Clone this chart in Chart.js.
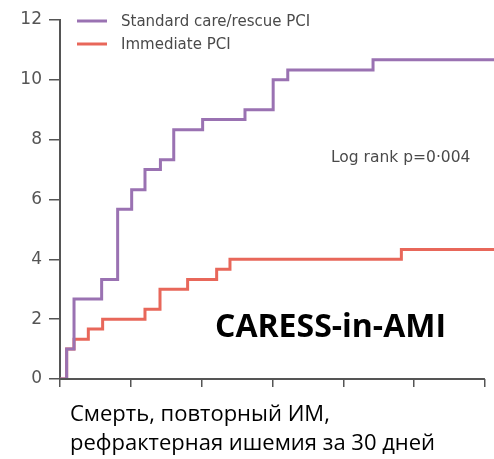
<!DOCTYPE html>
<html>
<head>
<meta charset="utf-8">
<script src="https://cdn.jsdelivr.net/npm/chart.js@4/dist/chart.umd.min.js"></script>
<style>
  html, body { margin: 0; padding: 0; background: #fff; }
  #wrap { width: 494px; height: 459px; position: relative; }
</style>
</head>
<body>
<div id="wrap"><canvas id="km"></canvas></div>
<script>
// Kaplan–Meier curves: cumulative event rate (%) by day of follow-up
const seriesNames = ['Standard care/rescue PCI', 'Immediate PCI'];
const standardDays   = [0, 0.47, 0.99, 2.94, 4.07, 5.06, 6.0, 7.09, 8.03, 10.07, 13.06, 15.05, 16.08, 22.1, 30.64];
const standardValues = [0, 1.0, 2.67, 3.33, 5.67, 6.33, 7.0, 7.33, 8.33, 8.67, 9.0, 10.0, 10.33, 10.67, 10.67];
const immediateDays   = [0, 0.47, 0.99, 2.0, 3.01, 6.0, 7.06, 9.01, 11.06, 12.0, 24.1, 30.64];
const immediateValues = [0, 1.0, 1.33, 1.67, 2.0, 2.33, 3.0, 3.33, 3.67, 4.0, 4.33, 4.33];
const xTickDays = [0, 5, 10, 15, 20, 25, 30];
const yTickValues = [0, 2, 4, 6, 8, 10, 12];
const pValueText = 'Log rank p=0·004';
const trialName = 'CARESS-in-AMI';
const endpointLines = ['Смерть, повторный ИМ,', 'рефрактерная ишемия за 30 дней'];

const PURPLE = '#9a72b2';
const RED = '#e8675a';
const AXIS = '#555555';

function toPoints(xs, ys) { return xs.map((x, i) => ({ x: x, y: ys[i] })); }

// legend, x baseline and free text drawn on the canvas
const decorations = {
  id: 'decorations',
  afterDraw(chart) {
    const ctx = chart.ctx;
    const xs = chart.scales.x, ys = chart.scales.y;
    ctx.save();
    // x axis baseline up to day 30
    ctx.strokeStyle = AXIS;
    ctx.lineWidth = 2;
    ctx.beginPath();
    ctx.moveTo(xs.getPixelForValue(0) - 1, ys.getPixelForValue(0));
    ctx.lineTo(xs.getPixelForValue(30), ys.getPixelForValue(0));
    ctx.stroke();

    // legend
    const legendRows = [{ color: PURPLE, y: 21 }, { color: RED, y: 44 }];
    ctx.font = '15px "DejaVu Sans", sans-serif';
    ctx.textBaseline = 'middle';
    ctx.textAlign = 'left';
    legendRows.forEach((r, i) => {
      ctx.strokeStyle = r.color;
      ctx.lineWidth = 3;
      ctx.beginPath();
      ctx.moveTo(77, r.y);
      ctx.lineTo(107, r.y);
      ctx.stroke();
      ctx.fillStyle = '#4a4a4a';
      ctx.fillText(seriesNames[i], 121, r.y + 1);
    });

    // p-value
    ctx.fillStyle = '#4a4a4a';
    ctx.font = '15.5px "DejaVu Sans", sans-serif';
    ctx.fillText(pValueText, 331, 158);

    // trial name
    ctx.fillStyle = '#000';
    ctx.textBaseline = 'alphabetic';
    ctx.font = 'bold 32px "Open Sans", sans-serif';
    ctx.fillText(trialName, 215, 337);

    // endpoint description
    ctx.textBaseline = 'middle';
    ctx.font = '22px "Open Sans", sans-serif';
    ctx.fillText(endpointLines[0], 70, 415);
    ctx.fillText(endpointLines[1], 70, 444);
    ctx.restore();
  }
};

new Chart(document.getElementById('km'), {
  type: 'line',
  data: {
    datasets: [
      {
        label: seriesNames[1],
        data: toPoints(immediateDays, immediateValues),
        borderColor: RED,
        borderWidth: 3,
        stepped: 'before',
        pointRadius: 0,
        fill: false,
        order: 2
      },
      {
        label: seriesNames[0],
        data: toPoints(standardDays, standardValues),
        borderColor: PURPLE,
        borderWidth: 3,
        stepped: 'before',
        pointRadius: 0,
        fill: false,
        order: 1
      }
    ]
  },
  options: {
    responsive: true,
    maintainAspectRatio: false,
    animation: false,
    layout: { padding: { top: 20, right: 0, left: 0, bottom: 0 } },
    plugins: { legend: { display: false }, tooltip: { enabled: false } },
    scales: {
      x: {
        type: 'linear',
        min: 0,
        max: 30.64,
        afterBuildTicks(scale) { scale.ticks = xTickDays.map(v => ({ value: v })); },
        afterFit(scale) { scale.height = 80; },
        ticks: { display: false },
        border: { display: false },
        grid: { drawOnChartArea: false, drawTicks: true, tickLength: 8, color: AXIS, lineWidth: 1.5 }
      },
      y: {
        type: 'linear',
        min: 0,
        max: 12,
        afterBuildTicks(scale) { scale.ticks = yTickValues.map(v => ({ value: v })); },
        afterFit(scale) { scale.width = 60; },
        ticks: { color: '#555', font: { family: '"DejaVu Sans", sans-serif', size: 17 }, padding: 7 },
        border: { display: true, color: AXIS, width: 2 },
        grid: { drawOnChartArea: false, drawTicks: true, tickLength: 11, color: AXIS, lineWidth: 1.5 }
      }
    }
  },
  plugins: [decorations]
});
</script>
</body>
</html>
